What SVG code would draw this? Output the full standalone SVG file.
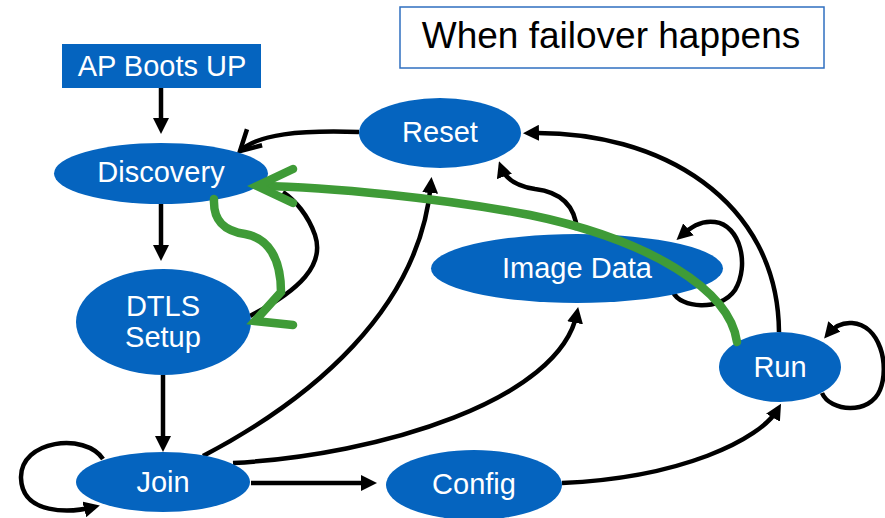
<svg xmlns="http://www.w3.org/2000/svg" width="885" height="518" viewBox="0 0 885 518">
  <style>
    .node { fill: #0564BF; }
    .label { font-family: "Liberation Sans", Arial, sans-serif; font-size: 29px; fill: #ffffff; text-anchor: middle; }
    .edge { fill: none; stroke: #000000; stroke-width: 4.5; }
    .fail { fill: none; stroke: #3F9B37; stroke-width: 8.5; stroke-linecap: round; stroke-linejoin: miter; }
    .title { font-family: "Liberation Sans", Arial, sans-serif; font-size: 37px; fill: #000000; text-anchor: middle; }
  </style>
  <defs>
    <marker id="arrow" viewBox="0 0 16 16" refX="10" refY="8" markerWidth="16" markerHeight="16" markerUnits="userSpaceOnUse" orient="auto">
      <path d="M0,0 L16,8 L0,16 z" fill="#000000"/>
    </marker>
    <marker id="open-arrow" viewBox="-4 -4 30 30" refX="20" refY="11" markerWidth="30" markerHeight="30" markerUnits="userSpaceOnUse" orient="auto" overflow="visible">
      <path d="M0,0 L20,11 L0,22" fill="none" stroke="#000000" stroke-width="4.5"/>
    </marker>
  </defs>

  <!-- state transitions -->
  <g id="connectors">
    <path class="edge" d="M161,88 L161,128" marker-end="url(#arrow)"/>
    <path class="edge" d="M161,204 L161,255" marker-end="url(#arrow)"/>
    <path class="edge" d="M163,375 L163,446" marker-end="url(#arrow)"/>
    <path class="edge" d="M251,483 L371,483" marker-end="url(#arrow)"/>
    <path class="edge" d="M103,459 C85,432 20,440 21,478 C22,515 70,513 94,507" marker-end="url(#arrow)"/>
    <path class="edge" d="M359,132 C300,130 258,134 240,151" marker-end="url(#open-arrow)"/>
    <path class="edge" d="M250,316 C300,290 325,265 315,235 C308,215 295,200 283,192"/>
    <path class="edge" d="M203,456 C310,400 420,310 431,183" marker-end="url(#arrow)"/>
    <path class="edge" d="M233,463 C380,455 560,400 577,313" marker-end="url(#arrow)"/>
    <path class="edge" d="M562,483 C680,478 760,440 778,409" marker-end="url(#arrow)"/>
    <path class="edge" d="M779,332 C778,200 660,130 529,133" marker-end="url(#arrow)"/>
    <path class="edge" d="M577,230 C575,205 560,192 535,189 C515,186 505,178 501,167" marker-end="url(#arrow)"/>
    <path class="edge" d="M673,292 C680,308 720,312 735,290 C750,265 740,225 715,222 C700,220 690,228 681,236" marker-end="url(#arrow)"/>
    <path class="edge" d="M822,393 C830,412 870,415 880,390 C890,365 880,325 852,323 C840,322 833,328 828,334" marker-end="url(#arrow)"/>
  </g>

  <g id="title">
    <rect x="400" y="7" width="424" height="61" fill="#ffffff" stroke="#2F6FC0" stroke-width="1.5"/>
    <text class="title" x="611" y="48">When failover happens</text>
  </g>

  <g id="ap-boots-up">
    <rect class="node" x="62" y="44" width="199" height="44"/>
    <text class="label" x="162" y="76">AP Boots UP</text>
  </g>
  <g id="discovery">
    <ellipse class="node" cx="161" cy="173.5" rx="107" ry="30.5"/>
    <text class="label" x="161" y="182">Discovery</text>
  </g>
  <g id="dtls-setup">
    <ellipse class="node" cx="163.5" cy="322" rx="87.5" ry="53"/>
    <text class="label" x="163" y="316">DTLS</text>
    <text class="label" x="163" y="347">Setup</text>
  </g>
  <g id="join">
    <ellipse class="node" cx="163" cy="482" rx="87" ry="30"/>
    <text class="label" x="163" y="492">Join</text>
  </g>
  <g id="config">
    <ellipse class="node" cx="474" cy="485" rx="88" ry="35"/>
    <text class="label" x="474" y="494">Config</text>
  </g>
  <g id="reset">
    <ellipse class="node" cx="440" cy="133" rx="81" ry="35"/>
    <text class="label" x="440" y="142">Reset</text>
  </g>
  <g id="image-data">
    <ellipse class="node" cx="577" cy="268.5" rx="146" ry="34.5"/>
    <text class="label" x="577" y="278">Image Data</text>
  </g>
  <g id="run">
    <ellipse class="node" cx="780" cy="367" rx="61" ry="35"/>
    <text class="label" x="780" y="377">Run</text>
  </g>

  <!-- failover transitions -->
  <g id="failover-connectors">
    <path class="fail" d="M737,342 C730,290 650,240 530,215 C440,198 330,187 259,186"/>
    <path class="fail" d="M293,169 L257,186 L293,203"/>
    <path class="fail" d="M214,199 C213,222 225,231 245,234 C268,238 281,258 281,292 L255,321 L293,325"/>
  </g>
</svg>
